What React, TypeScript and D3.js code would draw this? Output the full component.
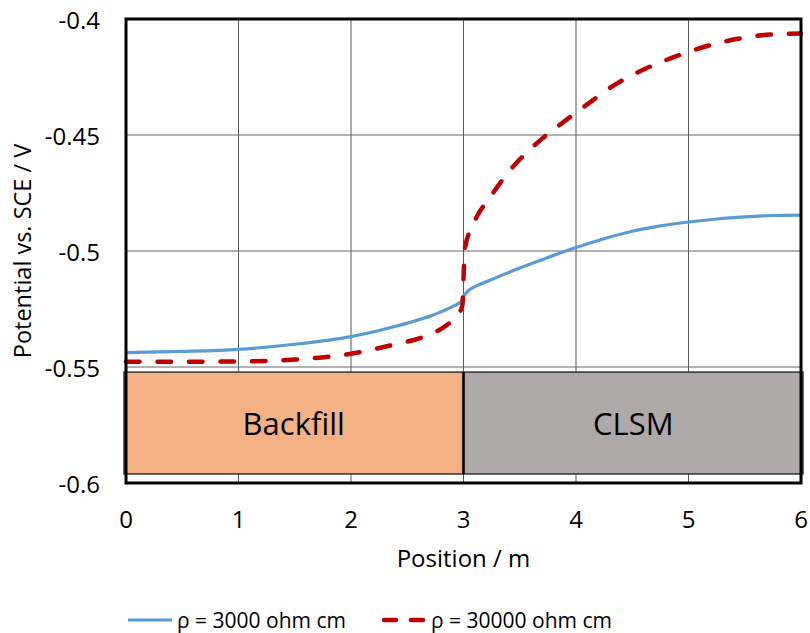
import React from 'react';
import * as d3 from 'd3';

const xTicks = [0, 1, 2, 3, 4, 5, 6];
const yTicks = [-0.4, -0.45, -0.5, -0.55, -0.6];
const yTickLabels = ['-0.4', '-0.45', '-0.5', '-0.55', '-0.6'];
const seriesNames = ['ρ = 3000 ohm cm', 'ρ = 30000 ohm cm'];

const blueX = [0, 0.5, 1, 1.5, 2, 2.44, 2.73, 2.9, 2.98, 3.0, 3.04, 3.1, 3.25, 3.5, 3.75, 4.0, 4.25, 4.5, 4.75, 5.0, 5.25, 5.5, 5.75, 6.0];
const blueY = [-0.5438, -0.5433, -0.5424, -0.5402, -0.5369, -0.5319, -0.5276, -0.524, -0.5217, -0.5197, -0.5172, -0.5154, -0.5123, -0.5073, -0.5028, -0.4985, -0.4947, -0.4915, -0.4892, -0.4875, -0.4862, -0.4853, -0.4847, -0.4845];

const redX = [0, 0.5, 1, 1.5, 2, 2.35, 2.67, 2.85, 2.95, 2.99, 3.0, 3.01, 3.09, 3.24, 3.44, 3.65, 3.86, 4.1, 4.33, 4.6, 4.85, 5.1, 5.44, 5.73, 6.0];
const redY = [-0.5477, -0.5477, -0.5476, -0.5468, -0.5443, -0.5407, -0.5365, -0.532, -0.5275, -0.5235, -0.512, -0.4995, -0.4881, -0.4766, -0.4637, -0.4536, -0.4455, -0.4368, -0.4288, -0.4218, -0.4168, -0.4126, -0.4085, -0.4067, -0.4062];

const regionLabels = ['Backfill', 'CLSM'];
const regionStart = [0, 3];
const regionEnd = [3, 6];
const regionColors = ['#F4B183', '#AEAAAA'];

const FONT = "'Open Sans', sans-serif";

export default function App() {
  const W = 810, H = 633;
  const left = 126, right = 801, top = 19, bottom = 483;
  const x = d3.scaleLinear().domain([0, 6]).range([left, right]);
  const y = d3.scaleLinear().domain([-0.6, -0.4]).range([bottom, top]);

  const line = d3.line<[number, number]>()
    .x(d => x(d[0]))
    .y(d => y(d[1]))
    .curve(d3.curveMonotoneX);

  const blue = blueX.map((v, i) => [v, blueY[i]] as [number, number]);
  const red = redX.map((v, i) => [v, redY[i]] as [number, number]);

  const boxTop = y(-0.5522);
  const boxBottom = y(-0.5961);

  return (
    <svg width={W} height={H} style={{ position: 'absolute', left: 0, top: 0, background: '#fff' }}>
      {/* grid */}
      {xTicks.map(t => (
        <line key={'gx' + t} x1={x(t)} x2={x(t)} y1={top} y2={bottom} stroke="#595959" strokeWidth={1} />
      ))}
      {yTicks.map(t => (
        <line key={'gy' + t} x1={left} x2={right} y1={y(t)} y2={y(t)} stroke="#6a6a6a" strokeWidth={1} />
      ))}
      {/* curves */}
      <path d={line(blue) || ''} fill="none" stroke="#5B9BD5" strokeWidth={3.2} strokeLinejoin="round" />
      <path d={line(red) || ''} fill="none" stroke="#C00000" strokeWidth={4.5} strokeDasharray="13.5 18" strokeLinecap="round" strokeLinejoin="round" />
      {/* region boxes */}
      {regionLabels.map((lab, i) => {
        const x0 = i === 0 ? x(regionStart[i]) - 2 : x(regionStart[i]);
        const x1 = i === regionLabels.length - 1 ? x(regionEnd[i]) + 2 : x(regionEnd[i]);
        return (
          <g key={lab}>
            <rect x={x0} y={boxTop} width={x1 - x0} height={boxBottom - boxTop} fill={regionColors[i]} stroke="#333" strokeWidth={1.5} />
            <text x={(x0 + x1) / 2} y={(boxTop + boxBottom) / 2} textAnchor="middle" dominantBaseline="central" fontFamily={FONT} fontSize={31} fill="#000">{lab}</text>
          </g>
        );
      })}
      <line x1={x(3)} x2={x(3)} y1={boxTop} y2={boxBottom} stroke="#000" strokeWidth={2.5} />
      {/* frame */}
      <rect x={left} y={top} width={right - left} height={bottom - top} fill="none" stroke="#000" strokeWidth={3} />
      {/* y tick labels */}
      {yTicks.map((t, i) => (
        <text key={'yl' + t} x={100} y={y(t)} textAnchor="end" dominantBaseline="central" fontFamily={FONT} fontSize={24} fill="#000">{yTickLabels[i]}</text>
      ))}
      {/* x tick labels */}
      {xTicks.map(t => (
        <text key={'xl' + t} x={x(t)} y={518} textAnchor="middle" dominantBaseline="central" fontFamily={FONT} fontSize={24} fill="#000">{t}</text>
      ))}
      {/* axis titles */}
      <text x={x(3)} y={557} textAnchor="middle" dominantBaseline="central" fontFamily={FONT} fontSize={24} fill="#000">Position / m</text>
      <text transform={`translate(22, ${(top + bottom) / 2}) rotate(-90)`} textAnchor="middle" dominantBaseline="central" fontFamily={FONT} fontSize={23.5} fill="#000">Potential vs. SCE / V</text>
      {/* legend */}
      <line x1={128} x2={172} y1={620} y2={620} stroke="#5B9BD5" strokeWidth={3.2} />
      <text x={177} y={620} dominantBaseline="central" fontFamily={FONT} fontSize={21} fill="#000">{seriesNames[0]}</text>
      <line x1={384} x2={424} y1={620} y2={620} stroke="#C00000" strokeWidth={4.5} strokeDasharray="12 15" strokeLinecap="round" />
      <text x={431} y={620} dominantBaseline="central" fontFamily={FONT} fontSize={21} fill="#000">{seriesNames[1]}</text>
    </svg>
  );
}
